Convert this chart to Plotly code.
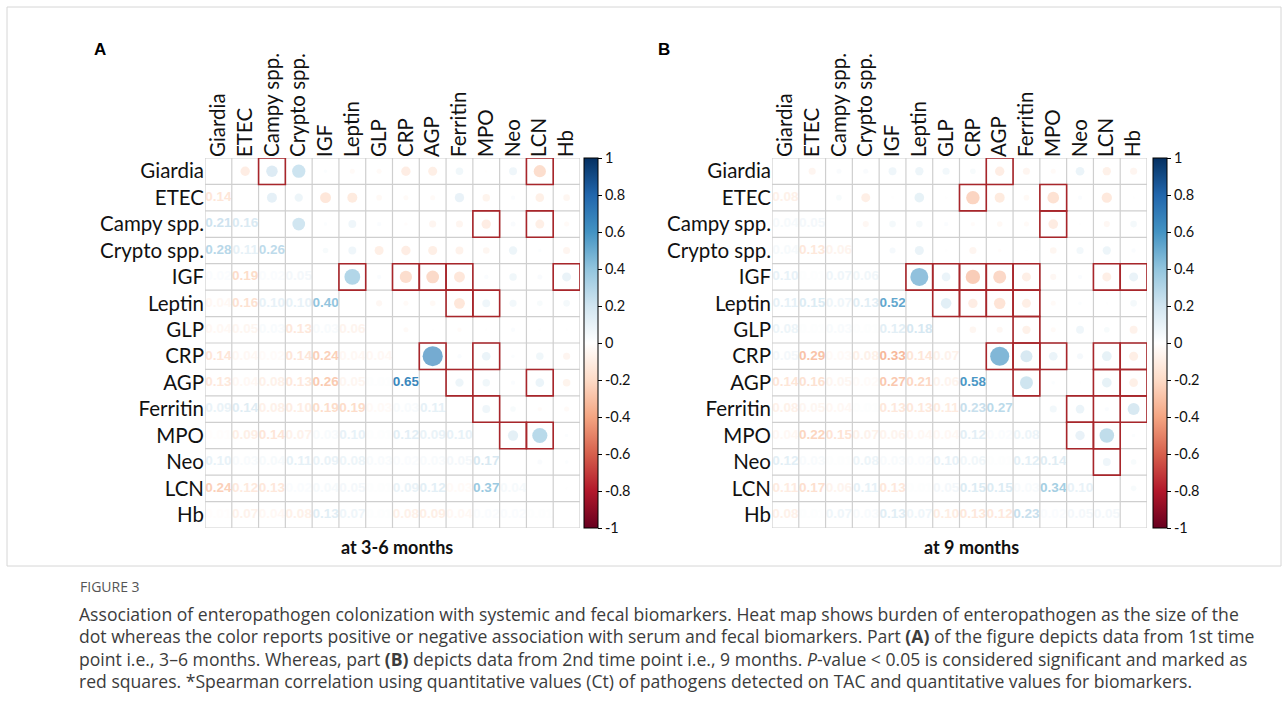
import numpy as np
import plotly.graph_objects as go

# ---------------- data ----------------
variables = ["Giardia", "ETEC", "Campy spp.", "Crypto spp.", "IGF", "Leptin", "GLP",
             "CRP", "AGP", "Ferritin", "MPO", "Neo", "LCN", "Hb"]

# lower-triangle Spearman correlations (row i, columns 0..i-1), panel A (3-6 months)
corr_A_lower = [
    [],
    [-0.14],
    [0.21, 0.16],
    [0.28, 0.11, 0.26],
    [0.02, -0.19, 0.02, 0.05],
    [-0.04, -0.16, 0.10, 0.10, 0.40],
    [-0.04, -0.05, 0.03, -0.13, 0.03, -0.06],
    [-0.14, -0.04, -0.02, -0.14, -0.24, -0.04, -0.04],
    [-0.13, -0.04, -0.08, -0.13, -0.26, -0.05, 0.01, 0.65],
    [0.09, 0.14, -0.08, -0.10, -0.19, -0.19, -0.03, 0.03, 0.11],
    [-0.01, -0.09, -0.14, -0.07, 0.03, 0.10, 0.01, 0.12, 0.09, 0.10],
    [0.10, 0.03, 0.04, 0.11, 0.09, 0.08, 0.03, 0.02, 0.03, 0.05, 0.17],
    [-0.24, -0.12, -0.13, 0.02, 0.04, 0.05, 0.01, 0.09, 0.12, -0.03, 0.37, 0.04],
    [-0.01, -0.07, -0.04, -0.08, 0.13, 0.07, 0.01, -0.08, -0.09, -0.04, 0.02, 0.02, 0.01],
]

# panel B (9 months)
corr_B_lower = [
    [],
    [-0.08],
    [0.04, 0.05],
    [0.04, -0.13, -0.06],
    [0.10, 0.01, 0.07, 0.06],
    [0.11, 0.15, 0.07, 0.13, 0.52],
    [0.08, 0.01, 0.03, 0.01, 0.12, 0.18],
    [0.05, -0.29, -0.03, -0.08, -0.33, -0.14, -0.07],
    [-0.14, -0.16, -0.05, -0.02, -0.27, -0.21, -0.06, 0.58],
    [-0.08, -0.05, -0.04, 0.01, -0.13, -0.13, -0.11, 0.23, 0.27],
    [-0.04, -0.22, -0.15, -0.07, -0.06, -0.04, -0.04, 0.12, 0.02, 0.08],
    [0.12, 0.03, 0.01, 0.08, 0.03, 0.02, 0.10, 0.06, 0.01, 0.12, 0.14],
    [-0.11, -0.17, -0.06, 0.11, -0.13, 0.01, 0.05, 0.15, 0.15, 0.03, 0.34, 0.10],
    [-0.08, 0.01, 0.07, 0.03, 0.13, 0.07, -0.10, -0.13, -0.12, 0.23, 0.02, 0.05, 0.05],
]

# significant pairs (p < 0.05), as (row, column) in the upper triangle
sig_A = [(0, 2), (0, 12), (2, 10), (2, 12), (4, 5), (4, 7), (4, 8), (4, 9), (4, 13),
         (5, 9), (5, 10), (7, 8), (7, 10), (8, 9), (8, 12), (9, 10), (10, 11), (10, 12)]
sig_B = [(0, 8), (1, 7), (1, 10), (2, 10), (4, 5), (4, 6), (4, 7), (4, 8), (4, 9),
         (4, 12), (4, 13), (5, 6), (5, 7), (5, 8), (5, 9), (6, 9), (7, 8), (7, 9),
         (7, 10), (7, 12), (7, 13), (8, 9), (8, 12), (8, 13), (9, 11), (9, 13),
         (10, 11), (10, 12), (11, 12)]

cbar_ticks = [1, 0.8, 0.6, 0.4, 0.2, 0, -0.2, -0.4, -0.6, -0.8, -1]
cbar_ticktext = ["1", "0.8", "0.6", "0.4", "0.2", "0", "-0.2", "-0.4", "-0.6", "-0.8", "-1"]

panel_titles = ["at 3-6 months", "at 9 months"]
panel_letters = ["A", "B"]

# ---------------- style ----------------
W, H = 1288, 720
rdbu = ["#67001F", "#B2182B", "#D6604D", "#F4A582", "#FDDBC7", "#FFFFFF",
        "#D1E5F0", "#92C5DE", "#4393C3", "#2166AC", "#053061"]
colorscale = [[i / 10, c] for i, c in enumerate(rdbu)]


def hex2rgb(h):
    h = h.lstrip("#")
    return [int(h[k:k + 2], 16) for k in (0, 2, 4)]


def color_at(r):
    t = (r + 1) / 2 * 10
    k = int(np.clip(np.floor(t), 0, 9))
    f = t - k
    a, b = hex2rgb(rdbu[k]), hex2rgb(rdbu[k + 1])
    c = [round(a[m] + (b[m] - a[m]) * f) for m in range(3)]
    return f"rgb({c[0]},{c[1]},{c[2]})"


def full_matrix(lower):
    n = len(lower)
    M = np.zeros((n, n))
    for i, row in enumerate(lower):
        for j, v in enumerate(row):
            M[i, j] = v
            M[j, i] = v
    return M


LABEL_FONT = "Lato"
LABEL_SIZE = 20.5
grid_px = [(205, 580), (772, 1147)]
y_px = (158, 528)
cbar_x_px = [584, 1153]
title_x_px = [397, 971]
letter_x_px = [100, 664]

fig = go.Figure()
shapes = []
annotations = []
n = len(variables)

for p, (lower, sig) in enumerate([(corr_A_lower, sig_A), (corr_B_lower, sig_B)]):
    M = full_matrix(lower)
    xa = "x" if p == 0 else "x2"
    ya = "y" if p == 0 else "y2"
    cax = "coloraxis" if p == 0 else "coloraxis2"

    # circles in upper triangle
    cx, cy, cv, cs = [], [], [], []
    for i in range(n):
        for j in range(i + 1, n):
            cx.append(j)
            cy.append(i)
            cv.append(M[i, j])
            cs.append(25 * np.sqrt(abs(M[i, j])))
    fig.add_trace(go.Scatter(
        x=cx, y=cy, mode="markers", xaxis=xa, yaxis=ya,
        marker=dict(size=cs, color=cv, coloraxis=cax, line=dict(width=0)),
        hovertemplate="%{y} / %{x}: %{marker.color:.2f}<extra></extra>",
        showlegend=False))

    # numbers in lower triangle
    tx, ty, tt, tc = [], [], [], []
    for i in range(n):
        for j in range(i):
            tx.append(j)
            ty.append(i)
            tt.append(f"{abs(M[i, j]):.2f}")
            tc.append(color_at(M[i, j]))
    fig.add_trace(go.Scatter(
        x=tx, y=ty, mode="text", text=tt, xaxis=xa, yaxis=ya,
        textfont=dict(family="Liberation Sans", size=13.5, color=tc, weight="bold"),
        textposition="middle center", hoverinfo="skip", showlegend=False))

    # grid
    for k in range(n + 1):
        shapes.append(dict(type="line", xref=xa, yref=ya, x0=k - 0.5, x1=k - 0.5,
                           y0=-0.5, y1=n - 0.5, line=dict(color="#cfcfcf", width=1.2)))
        shapes.append(dict(type="line", xref=xa, yref=ya, y0=k - 0.5, y1=k - 0.5,
                           x0=-0.5, x1=n - 0.5, line=dict(color="#cfcfcf", width=1.2)))
    # significance squares
    for (i, j) in sig:
        shapes.append(dict(type="rect", xref=xa, yref=ya, x0=j - 0.5, x1=j + 0.5,
                           y0=i - 0.5, y1=i + 0.5, line=dict(color="#A8262B", width=1.6)))

    x0, x1 = grid_px[p]
    axis_x = dict(domain=[x0 / W, x1 / W], range=[-0.5, n - 0.5], side="top",
                  tickmode="array", tickvals=list(range(n)), ticktext=variables,
                  tickangle=-90, showgrid=False, zeroline=False, showline=False,
                  ticks="", tickfont=dict(family=LABEL_FONT, size=LABEL_SIZE, color="#111"),
                  anchor=ya, fixedrange=True)
    axis_y = dict(domain=[1 - y_px[1] / H, 1 - y_px[0] / H], range=[n - 0.5, -0.5],
                  tickmode="array", tickvals=list(range(n)), ticktext=variables,
                  showgrid=False, zeroline=False, showline=False, ticks="",
                  tickfont=dict(family=LABEL_FONT, size=LABEL_SIZE, color="#111"),
                  anchor=xa, fixedrange=True)
    colorax = dict(cmin=-1, cmax=1, colorscale=colorscale,
                   colorbar=dict(x=cbar_x_px[p] / W, xanchor="left",
                                 y=1 - (y_px[0] + y_px[1]) / 2 / H, yanchor="middle",
                                 len=y_px[1] - y_px[0], lenmode="pixels",
                                 thickness=14, xpad=0, ypad=0,
                                 outlinecolor="#000", outlinewidth=1,
                                 ticks="outside", ticklen=4, tickcolor="#000",
                                 tickvals=cbar_ticks, ticktext=cbar_ticktext,
                                 tickfont=dict(family=LABEL_FONT, size=14.5, color="#111")))
    if p == 0:
        fig.update_layout(xaxis=axis_x, yaxis=axis_y, coloraxis=colorax)
    else:
        fig.update_layout(xaxis2=axis_x, yaxis2=axis_y, coloraxis2=colorax)

    annotations.append(dict(text=f"<b>{panel_titles[p]}</b>", x=title_x_px[p] / W,
                            y=1 - 547 / H, xref="paper", yref="paper", showarrow=False,
                            xanchor="center", yanchor="middle",
                            font=dict(family=LABEL_FONT, size=18, color="#111")))
    annotations.append(dict(text=f"<b>{panel_letters[p]}</b>", x=letter_x_px[p] / W,
                            y=1 - 50 / H, xref="paper", yref="paper", showarrow=False,
                            xanchor="center", yanchor="middle",
                            font=dict(family="Liberation Sans", size=17, color="#000")))

# frame
shapes.append(dict(type="rect", xref="paper", yref="paper", x0=7 / W, x1=1281 / W,
                   y0=1 - 566 / H, y1=1 - 7 / H, line=dict(color="#d6d6d6", width=1)))

caption_lines = [
    "Association of enteropathogen colonization with systemic and fecal biomarkers. Heat map shows burden of enteropathogen as the size of the",
    "dot whereas the color reports positive or negative association with serum and fecal biomarkers. Part <b>(A)</b> of the figure depicts data from 1st time",
    "point i.e., 3–6 months. Whereas, part <b>(B)</b> depicts data from 2nd time point i.e., 9 months. <i>P</i>-value &lt; 0.05 is considered significant and marked as",
    "red squares. *Spearman correlation using quantitative values (Ct) of pathogens detected on TAC and quantitative values for biomarkers.",
]
annotations.append(dict(text="FIGURE 3", x=78 / W, y=1 - 586 / H, xref="paper", yref="paper",
                        showarrow=False, xanchor="left", yanchor="middle",
                        font=dict(family="Open Sans", size=14, color="#555")))
for k, line in enumerate(caption_lines):
    annotations.append(dict(text=line, x=77 / W, y=1 - (614 + k * 22.4) / H, xref="paper",
                            yref="paper", showarrow=False, xanchor="left", yanchor="middle",
                            font=dict(family="Open Sans", size=17.6, color="#3c3c3c")))

fig.update_layout(width=W, height=H, margin=dict(l=0, r=0, t=0, b=0),
                  paper_bgcolor="white", plot_bgcolor="white",
                  shapes=shapes, annotations=annotations, showlegend=False)

fig.write_html("out.html", config={"displayModeBar": False},
               post_script="document.body.style.margin='0px';")
